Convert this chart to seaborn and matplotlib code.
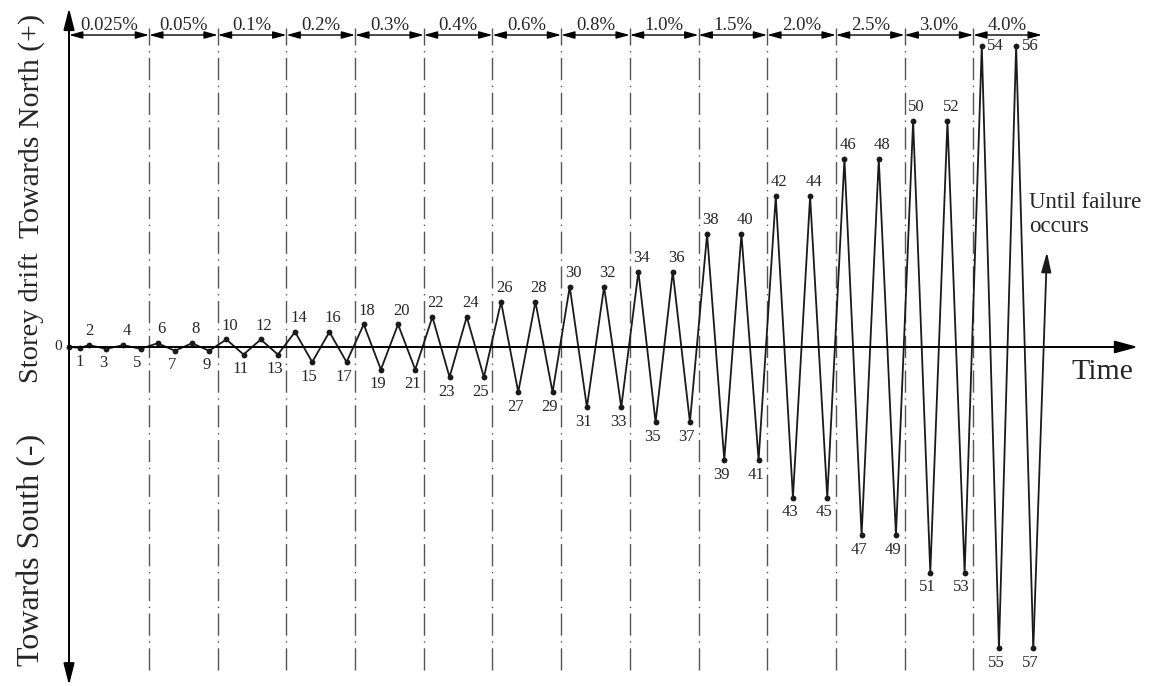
import numpy as np
import matplotlib
matplotlib.use("Agg")
from matplotlib import pyplot as plt
import seaborn as sns

# drift levels (%) for each pair of cycles
levels = ["0.025%", "0.05%", "0.1%", "0.2%", "0.3%", "0.4%", "0.6%",
          "0.8%", "1.0%", "1.5%", "2.0%", "2.5%", "3.0%", "4.0%"]

# load points 0..57, storey drift in %
drift = [0.0, -0.01,
         0.025, -0.025, 0.025, -0.025,
         0.05, -0.05, 0.05, -0.05,
         0.1, -0.1, 0.1, -0.1,
         0.2, -0.2, 0.2, -0.2,
         0.3, -0.3, 0.3, -0.3,
         0.4, -0.4, 0.4, -0.4,
         0.6, -0.6, 0.6, -0.6,
         0.8, -0.8, 0.8, -0.8,
         1.0, -1.0, 1.0, -1.0,
         1.5, -1.5, 1.5, -1.5,
         2.0, -2.0, 2.0, -2.0,
         2.5, -2.5, 2.5, -2.5,
         3.0, -3.0, 3.0, -3.0,
         4.0, -4.0, 4.0, -4.0]

# time position of each point (points 0-2 are squeezed at the start)
time = [0.0, 0.64] + [n - 0.835 for n in range(2, 58)]
point_ids = list(range(len(drift)))

# section borders along the time axis
borders = [0.0] + [4 * k + 0.665 for k in range(1, 15)]

sns.set_style("white")
plt.rcParams['font.family'] = ['Liberation Serif', 'DejaVu Serif']

fig = plt.figure(figsize=(11.57, 6.86), dpi=100)
ax = fig.add_axes([0, 0, 1, 1])
ax.set_xlim(-4.02, 63.37)
ax.set_ylim(-4.502, 4.608)
ax.axis("off")

# dash-dot dividers between drift levels
ax.vlines(borders[1:-1], -4.29, 4.236, colors="#555555", lw=1.0,
          linestyles=(0, (16, 4, 1, 4)))

# double arrows with drift level on top
ytop = 4.143
for i, lab in enumerate(levels):
    ax.annotate("", xy=(borders[i + 1], ytop), xytext=(borders[i], ytop),
                arrowprops=dict(arrowstyle="<|-|>,head_length=0.8,head_width=0.22",
                                mutation_scale=10, lw=1.0, color="k",
                                shrinkA=0, shrinkB=0))
    ax.text((borders[i] + borders[i + 1]) / 2, 4.263, lab, ha="center",
            va="center", fontsize=13.5)

# axes arrows
ax.annotate("", xy=(0, 4.50), xytext=(0, -4.49),
            arrowprops=dict(arrowstyle="<|-|>,head_length=1.3,head_width=0.33",
                            mutation_scale=10, lw=1.4, color="k",
                            shrinkA=0, shrinkB=0))
ax.annotate("", xy=(62.26, 0), xytext=(0, 0),
            arrowprops=dict(arrowstyle="-|>,head_length=1.4,head_width=0.38",
                            mutation_scale=10, lw=1.4, color="k",
                            shrinkA=0, shrinkB=0))

# loading history
sns.lineplot(x=time, y=drift, ax=ax, color="#1a1a1a", lw=1.3, marker="o",
             markersize=4.2, markeredgewidth=0, sort=False, estimator=None)

# arrow continuing after last point
ax.annotate("", xy=(56.96, 1.26), xytext=(time[-1], drift[-1]),
            arrowprops=dict(arrowstyle="-|>,head_length=1.2,head_width=0.3",
                            mutation_scale=10, lw=1.3, color="#1a1a1a",
                            shrinkA=0, shrinkB=0))

# point numbers
for n, t, v in zip(point_ids, time, drift):
    if n == 0:
        ax.annotate("0", xy=(t, v), xytext=(-8, 0), textcoords="offset points",
                    ha="center", va="center", fontsize=11)
        continue
    if n in (54, 56):
        off = (10, 0)
    elif n % 2 == 0:
        off = (2.5, 10)
    else:
        off = (-2.2, -10.5)
    if n in (1, 2):
        off = (0, off[1])
    ax.annotate(str(n), xy=(t, v), xytext=off, textcoords="offset points",
                ha="center", va="center", fontsize=12)

# axis texts
ax.text(-2.2, 2.93, "Towards North (+)", rotation=90, ha="center",
        va="center", fontsize=21.5)
ax.text(-2.2, 0.39, "Storey drift", rotation=90, ha="center",
        va="center", fontsize=20.5)
ax.text(-2.2, -2.69, "Towards South (-)", rotation=90, ha="center",
        va="center", fontsize=23)
ax.text(60.2, -0.33, "Time", ha="center", va="center", fontsize=21.5)
ax.text(55.9, 1.76, "Until failure\noccurs", ha="left", va="center",
        fontsize=16.5)

fig.savefig("out.png", dpi=100)
